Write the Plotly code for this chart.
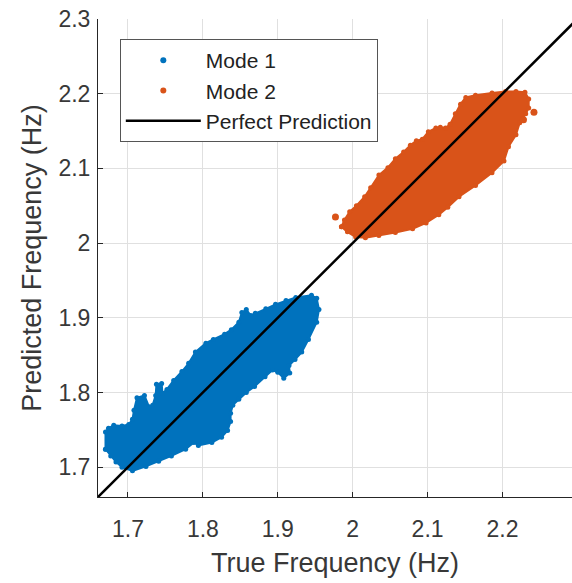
import plotly.graph_objects as go

# Outline of the Mode 1 prediction cloud (true Hz, predicted Hz), traced clockwise
mode1_true = [1.670, 1.670, 1.674, 1.681, 1.692, 1.701, 1.706, 1.708, 1.712, 1.722,
              1.728, 1.733, 1.737, 1.738, 1.745, 1.746, 1.752, 1.761, 1.772, 1.781,
              1.790, 1.804, 1.814, 1.829, 1.838, 1.848, 1.852, 1.858, 1.864, 1.870,
              1.884, 1.897, 1.911, 1.924, 1.945, 1.952, 1.955, 1.952, 1.941, 1.932,
              1.923, 1.915, 1.916, 1.908, 1.900, 1.893, 1.883, 1.869, 1.858, 1.848,
              1.840, 1.837, 1.837, 1.833, 1.825, 1.812, 1.794, 1.788, 1.777, 1.758,
              1.741, 1.724, 1.706, 1.692, 1.684, 1.677]
mode1_pred = [1.724, 1.747, 1.752, 1.756, 1.755, 1.757, 1.764, 1.776, 1.793, 1.796,
              1.781, 1.783, 1.796, 1.811, 1.812, 1.799, 1.804, 1.816, 1.828, 1.839,
              1.854, 1.866, 1.871, 1.878, 1.884, 1.894, 1.907, 1.911, 1.903, 1.906,
              1.912, 1.918, 1.923, 1.927, 1.930, 1.926, 1.911, 1.894, 1.871, 1.854,
              1.844, 1.836, 1.826, 1.819, 1.827, 1.830, 1.821, 1.808, 1.800, 1.791,
              1.783, 1.772, 1.761, 1.749, 1.740, 1.733, 1.729, 1.733, 1.724, 1.715,
              1.708, 1.701, 1.695, 1.700, 1.707, 1.715]

# Outline of the Mode 2 prediction cloud, traced clockwise
mode2_true = [1.985, 1.989, 1.996, 2.005, 2.016, 2.024, 2.035, 2.047, 2.057, 2.068,
              2.077, 2.085, 2.093, 2.101, 2.111, 2.117, 2.124, 2.130, 2.137, 2.144,
              2.151, 2.164, 2.186, 2.204, 2.218, 2.230, 2.235, 2.235, 2.231, 2.223,
              2.218, 2.208, 2.202, 2.186, 2.164, 2.142, 2.127, 2.115, 2.098, 2.080,
              2.057, 2.035, 2.017, 2.004, 1.993]
mode2_pred = [2.022, 2.031, 2.042, 2.050, 2.062, 2.074, 2.091, 2.101, 2.113, 2.122,
              2.131, 2.137, 2.139, 2.149, 2.154, 2.155, 2.154, 2.159, 2.173, 2.186,
              2.195, 2.198, 2.201, 2.203, 2.203, 2.202, 2.193, 2.181, 2.173, 2.161,
              2.145, 2.129, 2.110, 2.094, 2.077, 2.062, 2.048, 2.038, 2.027, 2.019,
              2.014, 2.010, 2.007, 2.008, 2.015]

# Isolated Mode 2 samples lying just outside the main cloud
mode2_stray_true = [1.977, 2.228, 2.242]
mode2_stray_pred = [2.035, 2.165, 2.175]

# Ends of the y = x reference line (axis limits)
ideal_line = [1.66, 2.3]

tick_vals = [1.7, 1.8, 1.9, 2.0, 2.1, 2.2, 2.3]
tick_text = ["1.7", "1.8", "1.9", "2", "2.1", "2.2", "2.3"]

BLUE = "#0072BD"
ORANGE = "#D95319"
INK = "#262626"
FONT = "Liberation Sans, Arial, sans-serif"

fig = go.Figure()


def cloud(xs, ys, color):
    return go.Scatter(
        x=xs + xs[:1], y=ys + ys[:1], mode="lines+markers", fill="toself",
        fillcolor=color, line=dict(color=color, width=2),
        marker=dict(color=color, size=5), showlegend=False, hoverinfo="skip",
    )


fig.add_trace(cloud(mode1_true, mode1_pred, BLUE))
fig.add_trace(cloud(mode2_true, mode2_pred, ORANGE))
fig.add_trace(go.Scatter(x=mode2_stray_true, y=mode2_stray_pred, mode="markers",
                         marker=dict(color=ORANGE, size=7), showlegend=False))

# Legend entries
fig.add_trace(go.Scatter(x=[None], y=[None], mode="markers", name="Mode 1",
                         marker=dict(color=BLUE, size=6)))
fig.add_trace(go.Scatter(x=[None], y=[None], mode="markers", name="Mode 2",
                         marker=dict(color=ORANGE, size=6)))
fig.add_trace(go.Scatter(x=ideal_line, y=ideal_line, mode="lines",
                         name="Perfect Prediction",
                         line=dict(color="black", width=2.5)))

axis_common = dict(
    tickvals=tick_vals, ticktext=tick_text, showgrid=True, gridcolor="#e0e0e0",
    gridwidth=1, zeroline=False, showline=True, linecolor=INK, linewidth=1,
    ticks="inside", ticklen=5, tickcolor=INK,
    tickfont=dict(family=FONT, size=23, color="#383838"),
)

fig.update_layout(
    width=572, height=583,
    margin=dict(l=98, r=0, t=19, b=86),
    plot_bgcolor="white", paper_bgcolor="white",
    font=dict(family=FONT, color="#383838"),
    xaxis=dict(range=[1.66, 2.2928], ticklabelstandoff=11,
               title=dict(text="True Frequency (Hz)", font=dict(size=27, family=FONT),
                          standoff=12),
               **axis_common),
    yaxis=dict(range=[1.66, 2.3], ticklabelstandoff=2,
               title=dict(text="Predicted Frequency (Hz)", font=dict(size=27, family=FONT),
                          standoff=8),
               **axis_common),
    legend=dict(x=0.046, y=0.958, xanchor="left", yanchor="top",
                bgcolor="white", bordercolor="#555555", borderwidth=1,
                font=dict(family=FONT, size=21, color="#222222"),
                itemwidth=75, tracegroupgap=0),
    showlegend=True,
)

fig.write_html("out.html")
